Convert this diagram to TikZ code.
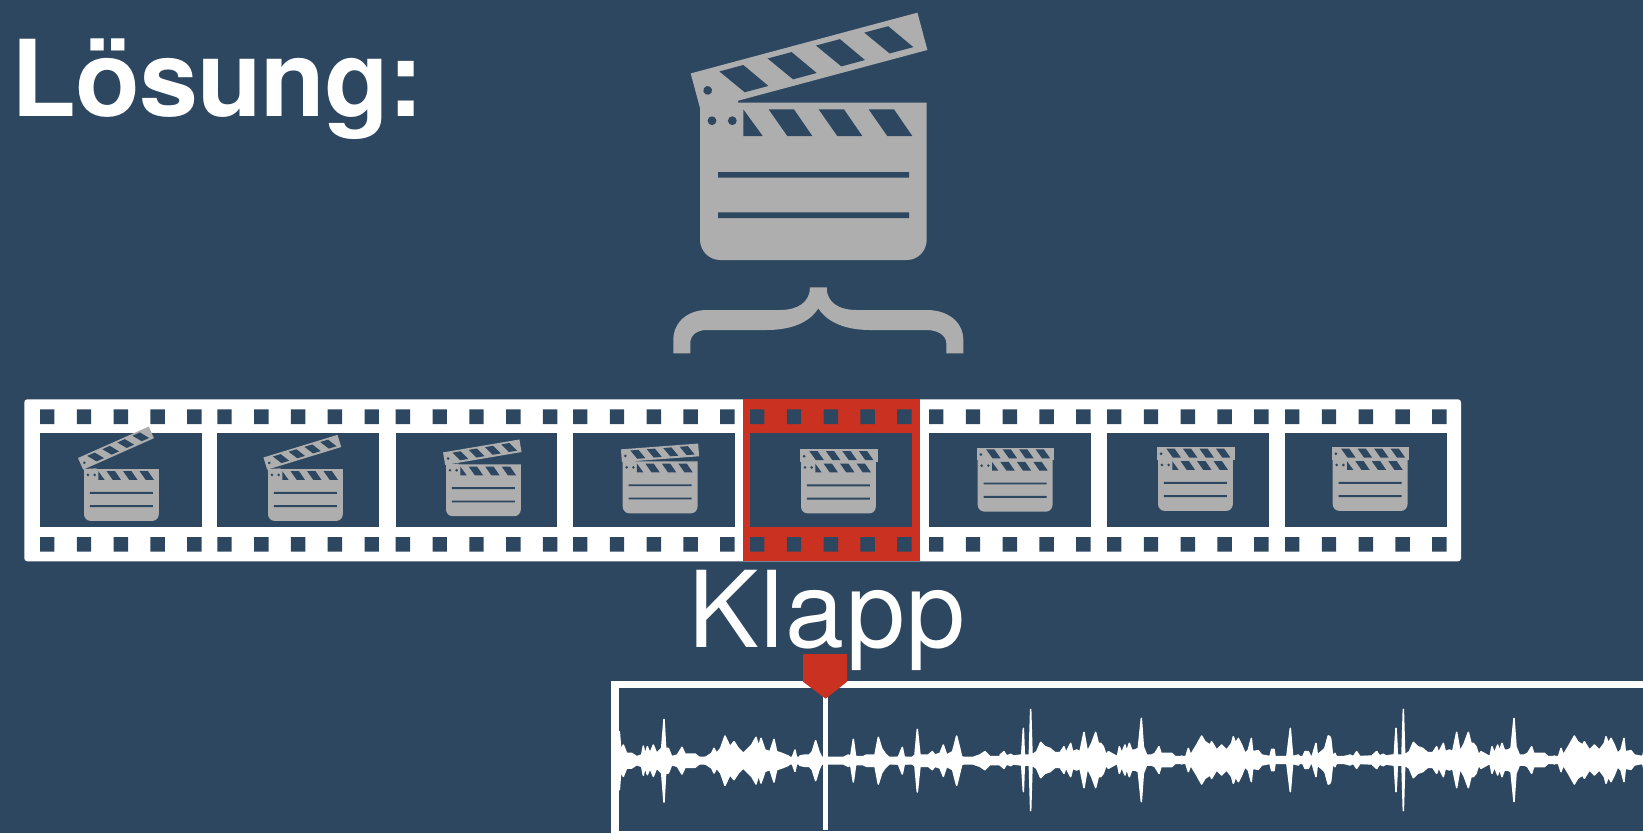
\documentclass[tikz,border=0pt]{standalone}
\usepackage{fontspec}
\setmainfont{TeX Gyre Heros}

\tikzset{
  pics/clapper/.style n args={3}{code={
    \fill[clapgray] (38,-2) -- (38,0) -- (226.7,0) -- (226.7,137) .. controls (226.7,148) and (218,157.3) .. (207,157.3)
      -- (20,157.3) .. controls (9,157.3) and (0,148) .. (0,137) -- (0,0) -- cycle;
    \fill[slate] (43.3,6.7) -- (62.7,33.3) -- (43.3,33.3) -- cycle;
    \foreach \k in {0,50,100}
      \fill[slate] (68.7+\k,6.7) -- (94+\k,6.7) -- (112.3+\k,33.3) -- (87.3+\k,33.3) -- cycle;
    \fill[slate] (12,18) circle (4.4) (32.3,18) circle (4.4);
    \fill[slate] (18,69.3) rectangle (209,75) (18,109.7) rectangle (209,115.3);
    \begin{scope}[shift={(#2,#3)}, rotate around={#1:(-6,0)}]
      \fill[clapgray] (-6,0) -- (228.7,0) -- (228.7,-38.6) -- (-6,-38.6) -- cycle;
      \fill[slate] (6,-17.8) circle (4.4);
      \foreach \k in {0,50,100,150}
        \fill[slate] (22.2+\k,-33.1) -- (47+\k,-33.1) -- (65.8+\k,-6.4) -- (41.3+\k,-6.4) -- cycle;
    \end{scope}
  }},
  wave/.style={fill=white, draw=white, line width=1.5pt, line join=round},
  % envelopes in crop pixels
  traceA/.style={insert path={(58,372) -- (58,275) -- (62,330) -- (70,315) -- (80,340) -- (95,340) -- (110,350) -- (125,345) -- (130,318) -- (135,345) -- (142,320) -- (150,340) -- (160,315) -- (170,340) -- (185,325) -- (192,238) -- (197,325) -- (205,325) -- (215,350) -- (232,345) -- (246,322) -- (255,342) -- (285,342) -- (305,358) -- (320,350) -- (335,340) -- (342,325) -- (350,340) -- (362,325) -- (375,288) -- (390,320) -- (402,305) -- (415,325) -- (430,340) -- (445,325) -- (455,315) -- (468,292) -- (476,320) -- (483,295) -- (495,330) -- (510,335) -- (522,298) -- (530,335) -- (545,340) -- (565,348) -- (575,358) -- (585,330) -- (592,365) -- (600,348) -- (615,345) -- (628,345) -- (637,335) -- (647,302) -- (657,335) -- (665,352) -- (690,358) -- (720,362) -- (735,350) -- (745,345) -- (752,350) -- (760,298) -- (767,350) -- (790,350) -- (800,345) -- (825,345) -- (835,292) -- (845,325) -- (855,340) -- (870,355) -- (895,352) -- (907,322) -- (913,352) -- (935,355) -- (945,345) -- (952,268) -- (960,345) -- (985,345) -- (997,335) -- (1005,345) -- (1020,340) -- (1030,315) -- (1040,345) -- (1058,335) -- (1070,288) -- (1078,320) -- (1085,350) -- (1105,362) -- (1125,350) -- (1140,345) -- (1155,335) -- (1170,350) -- (1200,350) -- (1200,372) -- cycle}},
  traceB/.style={insert path={(0,190) -- (0,165) -- (12,155) -- (20,168) -- (32,163) -- (40,168) -- (65,165) -- (70,85) -- (73,165) -- (88,165) -- (92,28) -- (96,165) -- (110,155) -- (122,127) -- (135,140) -- (150,145) -- (165,158) -- (180,158) -- (192,140) -- (198,158) -- (212,130) -- (218,155) -- (230,150) -- (240,155) -- (252,97) -- (262,155) -- (275,130) -- (287,97) -- (295,130) -- (302,130) -- (310,140) -- (318,165) -- (325,155) -- (352,170) -- (358,140) -- (365,160) -- (375,135) -- (380,155) -- (388,130) -- (395,150) -- (405,150) -- (415,145) -- (424,55) -- (430,140) -- (440,165) -- (455,165) -- (465,160) -- (477,140) -- (483,160) -- (515,160) -- (535,178) -- (545,168) -- (555,178) -- (565,145) -- (572,165) -- (590,135) -- (605,108) -- (615,125) -- (630,135) -- (635,125) -- (650,150) -- (665,135) -- (680,150) -- (695,130) -- (700,110) -- (707,130) -- (715,115) -- (725,135) -- (735,160) -- (745,150) -- (754,115) -- (758,155) -- (775,152) -- (785,165) -- (810,170) -- (815,148) -- (822,148) -- (826,175) -- (860,175) -- (871,85) -- (878,170) -- (895,165) -- (905,178) -- (915,155) -- (925,155) -- (935,175) -- (948,130) -- (952,165) -- (970,150) -- (975,145) -- (985,108) -- (990,110) -- (990,190) -- cycle}},
  traceC/.style={insert path={(0,190) -- (0,160) -- (15,145) -- (25,108) -- (32,115) -- (38,170) -- (45,160) -- (52,178) -- (65,172) -- (80,168) -- (90,165) -- (100,170) -- (110,155) -- (120,170) -- (160,168) -- (170,155) -- (180,170) -- (225,165) -- (228,85) -- (232,165) -- (232,190) -- cycle}}
}

\begin{document}
\begin{tikzpicture}[x=1pt, y=-1pt]
  \definecolor{slate}{HTML}{2D4760}
  \definecolor{clapgray}{HTML}{AEAEAE}
  \definecolor{klapred}{HTML}{CB3120}
  \useasboundingbox (0,0) rectangle (1643,833);
  \clip (0,0) rectangle (1643,833);
  \fill[slate] (0,0) rectangle (1643,833);

  \node[anchor=base west, inner sep=0pt, text=white, font=\fontsize{106}{110}\selectfont\bfseries\addfontfeature{LetterSpace=-1}] (loesung) at (11.5,116.7) {Lösung:};

  % big clapper and its brace
  \pic at (700,102.7) {clapper={15}{6.7}{8}};
  \fill[clapgray] (673.3,353.3) -- (690.3,353.3) -- (690.3,343.3) .. controls (690.3,335) and (697,330) .. (706.7,330)
    -- (766.7,330) .. controls (792,330) and (810,322) .. (818.3,308.3) .. controls (827,322) and (845,330) .. (870,330)
    -- (926.7,330) .. controls (937,330) and (946.3,335) .. (946.3,343.3) -- (946.3,353.3) -- (963.3,353.3) -- (963.3,340)
    .. controls (963.3,322) and (948,310) .. (926.7,310) -- (856.7,310) .. controls (838,310) and (826.7,302) .. (826.7,287.3)
    -- (810,287.3) .. controls (810,302) and (798,310) .. (780,310) -- (706.7,310) .. controls (688,310) and (673.3,322) .. (673.3,340) -- cycle;

  % film strip
  \fill[white, rounded corners=3pt] (24.3,399.3) rectangle (1461,561.3);
  \fill[klapred] (743,399.3) rectangle (920,561.3);
  \foreach \f in {40,217.3,395.7,573,750,929,1107,1285} {
    \fill[slate] (\f,433.3) rectangle ++(161.5,93.7);
    \foreach \s in {0,36.8,73.6,110.4,147.2}
      \fill[slate] (\f+\s,409.3) rectangle ++(14.4,14.7) (\f+\s,537) rectangle ++(14.4,14.7);
  }

  % the frames, lid closing from left to right
  \foreach \cx/\cy/\lid in {84/469/24,268/469/17,446/464.3/9.6,622.7/461.4/4.3,801/461.5/0,977.7/459.7/0,1158/459/0,1332.7/459/0}
    \pic[scale=.33] at (\cx,\cy) {clapper={\lid}{3.5}{2}};

  \node[anchor=base west, inner sep=0pt, text=white, font=\fontsize{106}{110}\selectfont\addfontfeature{LetterSpace=1.5}] (klapp) at (688,647.3) {Klapp};

  % audio track
  \draw[white, line width=7.7pt] (615,684.5) rectangle (1660,835.2);
  \foreach \ox/\oy/\cy/\trace in {600/640/760.67/traceA,1000/700/760/traceB,1372.67/700/760/traceB,1320/700/760/traceC} {
    \path[wave, shift={(\ox,\oy)}, x=.3333pt, y=-.3333pt, \trace];
    \path[wave, shift={(\ox,{2*\cy-\oy})}, x=.3333pt, y=.3333pt, \trace];
  }
  \fill[white] (823,690) rectangle (828.3,830.3);
  \fill[klapred] (803,654) -- (847,654) -- (847,681.7) -- (825.7,698.7) -- (803,681.7) -- cycle;
\end{tikzpicture}
\end{document}
